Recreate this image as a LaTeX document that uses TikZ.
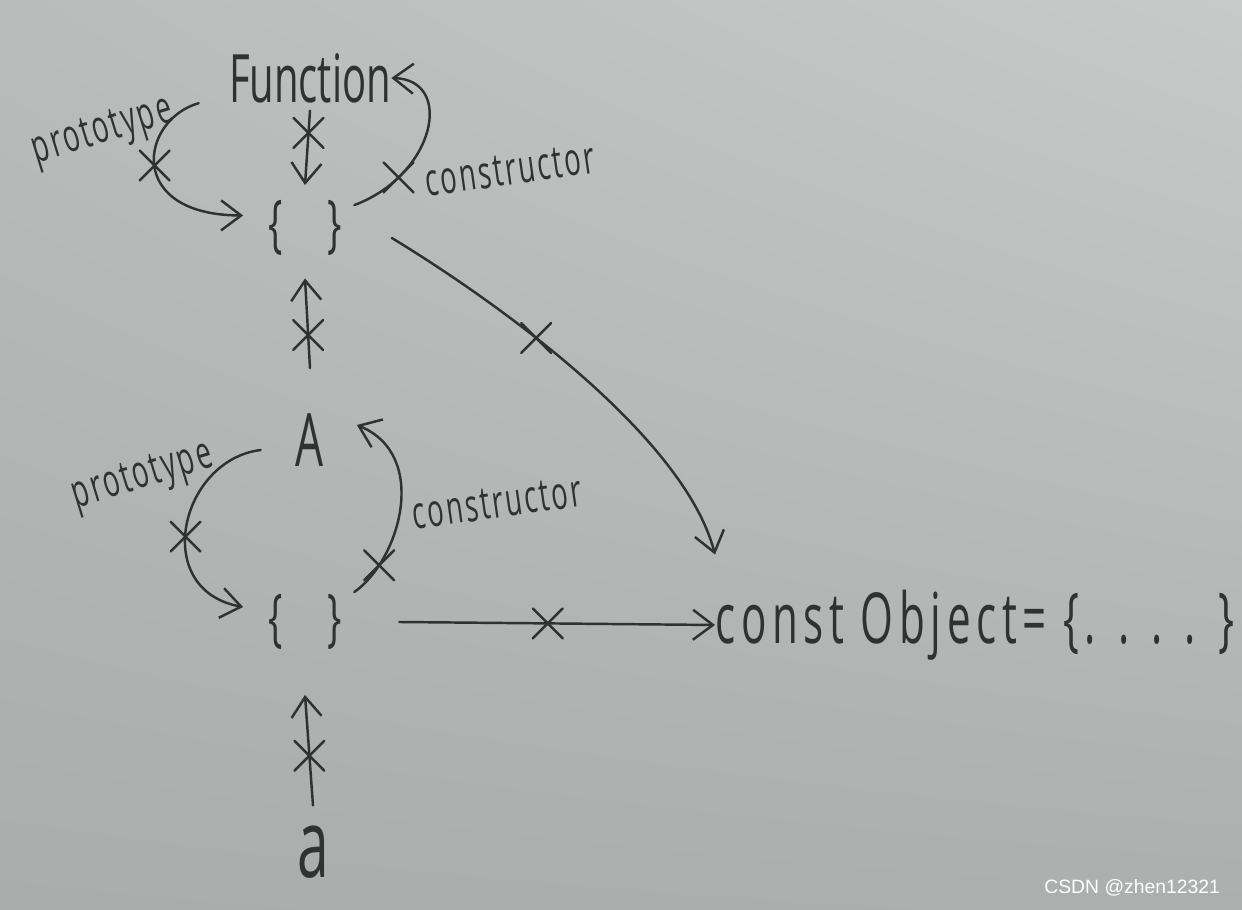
\documentclass[tikz,border=0pt]{standalone}
\usepackage{fontspec}
\usetikzlibrary{arrows.meta,shapes.misc,shadings}
\newfontfamily\handfont{Open Sans}[FakeStretch=0.6]
\newfontfamily\markfont{Liberation Sans}
\definecolor{ink}{HTML}{2E3231}
\definecolor{boardtl}{HTML}{B8BCBA}
\definecolor{boardtr}{HTML}{C6CAC8}
\definecolor{boardbl}{HTML}{A9AEAC}
\definecolor{boardbr}{HTML}{ABAFAE}
\tikzset{
  hand/.style={
    font={\handfont\fontsize{#1}{#1}\selectfont},
    text=ink,
    inner sep=0pt
  },
  label text/.style={
    font={\handfont\addfontfeature{LetterSpace=5}\fontsize{26}{26}\selectfont},
    text=ink,
    inner sep=0pt
  },
  spaced text/.style={
    font={\handfont\addfontfeature{LetterSpace=8}\fontsize{40}{40}\selectfont},
    text=ink,
    inner sep=0pt
  },
  link/.style={
    draw=ink,
    line width=1.4pt,
    line cap=round,
    -{Straight Barb[length=4mm,width=6mm,line width=1.4pt]}
  },
  xmark/.style={
    draw=ink,
    cross out,
    line width=1.4pt,
    minimum size=0.55cm,
    inner sep=0pt
  }
}

\begin{document}
\begin{tikzpicture}[x=0.02cm,y=0.02cm]
  \useasboundingbox (0,0) rectangle (1242,910);
  \shade[upper left=boardtl,upper right=boardtr,lower left=boardbl,lower right=boardbr]
    (0,0) rectangle (1242,910);

  % objects
  \node[hand=38] (fn)      at (310,832) {Function};
  \node[hand=36] (fnproto) at (305,682) {\{\hspace{0.7em}\}};
  \node[hand=42] (ctorA)   at (310,470) {A};
  \node[hand=36] (aproto)  at (305,288) {\{\hspace{0.7em}\}};
  \node[hand=54] (inst)    at (313,58)  {a};
  \node[spaced text,anchor=west] (obj) at (715,285) {const Object= \{. . . . \}};

  % labels
  \node[label text,rotate=17] (protoFn) at (103,777) {prototype};
  \node[label text,rotate=8]  (ctorFn)  at (510,740) {constructor};
  \node[label text,rotate=17] (protoA)  at (143,432) {prototype};
  \node[label text,rotate=8]  (ctorAl)  at (497,407) {constructor};

  % Function and its prototype
  \draw[link] ([yshift=-0.15cm]fn.south) -- node[xmark,pos=0.3]{} ([yshift=0.3cm]fnproto.north);
  \draw[link] ([xshift=-0.6cm]fn.south west) .. controls (140,790) and (125,695) ..
    ([xshift=-0.5cm,yshift=0.25cm]fnproto.west) node[xmark,pos=0.5]{};
  \draw[link] ([xshift=0.25cm,yshift=-0.1cm]fnproto.north east) .. controls (435,735) and (455,830) ..
    (fn.east) node[xmark,pos=0.22]{};
  \draw[link] ([xshift=1cm,yshift=-0.2cm]fnproto.east) .. controls (510,600) and (685,470) ..
    ([yshift=0.7cm]obj.north west) node[xmark,pos=0.37]{};

  % A and its prototype
  \draw[link] ([yshift=0.9cm]ctorA.north) -- node[xmark,pos=0.37]{} ([yshift=-0.45cm]fnproto.south);
  \draw[link] ([xshift=-0.7cm,yshift=-0.2cm]ctorA.west) .. controls (180,450) and (150,320) ..
    ([xshift=-0.5cm,yshift=0.3cm]aproto.west) node[xmark,pos=0.55]{};
  \draw[link] ([xshift=0.25cm,yshift=0.6cm]aproto.east) .. controls (400,350) and (430,455) ..
    ([xshift=0.65cm,yshift=0.3cm]ctorA.east) node[xmark,pos=0.2]{};
  \draw[link] ([xshift=1.15cm]aproto.east) -- node[xmark,pos=0.47]{} (obj.west);

  % instance
  \draw[link] ([yshift=0.4cm]inst.north) -- node[xmark,pos=0.45]{} ([yshift=-0.9cm]aproto.south);

  \node[font=\markfont\fontsize{11}{11}\selectfont,text=white,anchor=east] (mark) at (1226,22) {CSDN @zhen12321};
\end{tikzpicture}
\end{document}
